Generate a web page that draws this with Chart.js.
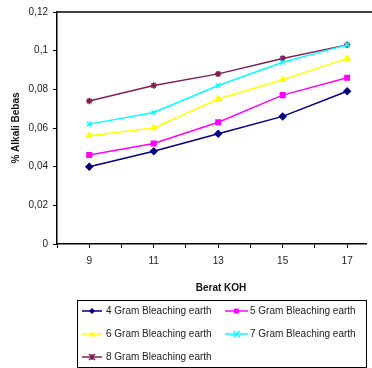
<!DOCTYPE html>
<html><head><meta charset="utf-8">
<script src="https://cdn.jsdelivr.net/npm/chart.js@4"></script>
<style>html,body{margin:0;padding:0;background:#fff}#wrap{width:372px;height:368px;position:relative}</style>
</head><body><div id="wrap"><canvas id="c" width="372" height="368"></canvas></div>
<script>
const categories = [9, 11, 13, 15, 17];
const seriesNames = ['4 Gram Bleaching earth', '5 Gram Bleaching earth', '6 Gram Bleaching earth', '7 Gram Bleaching earth', '8 Gram Bleaching earth'];
const gram4 = [0.040, 0.048, 0.057, 0.066, 0.079];
const gram5 = [0.046, 0.052, 0.063, 0.077, 0.086];
const gram6 = [0.056, 0.060, 0.075, 0.085, 0.096];
const gram7 = [0.062, 0.068, 0.082, 0.094, 0.103];
const gram8 = [0.074, 0.082, 0.088, 0.096, 0.103];
const yTickLabels = ['0', '0,02', '0,04', '0,06', '0,08', '0,1', '0,12'];
const xAxisTitle = 'Berat KOH';
const yAxisTitle = '% Alkali Bebas';

const FONT = "'Liberation Sans', Arial, sans-serif";
const colors = ['#000080', '#ff00ff', '#ffff00', '#00ffff', '#802050'];
const styles = ['rectRot', 'rect', 'triangle', 'crossRot', 'star'];
const allSeries = [gram4, gram5, gram6, gram7, gram8];

const datasets = allSeries.map((vals, i) => ({
  label: seriesNames[i],
  data: categories.map((c, j) => ({x: c, y: vals[j]})),
  borderColor: colors[i],
  backgroundColor: colors[i],
  borderWidth: 1.5,
  pointStyle: styles[i],
  pointRadius: 3.2,
  pointBorderWidth: 1.5,
  tension: 0
}));

function drawMarker(ctx, style, x, y, r, color) {
  ctx.save();
  ctx.fillStyle = color; ctx.strokeStyle = color; ctx.lineWidth = 1.5;
  ctx.beginPath();
  if (style === 'rectRot') {
    ctx.moveTo(x, y - r); ctx.lineTo(x + r, y); ctx.lineTo(x, y + r); ctx.lineTo(x - r, y); ctx.closePath(); ctx.fill();
  } else if (style === 'rect') {
    ctx.rect(x - r * 0.8, y - r * 0.8, r * 1.6, r * 1.6); ctx.fill();
  } else if (style === 'triangle') {
    ctx.moveTo(x, y - r); ctx.lineTo(x + r, y + r * 0.8); ctx.lineTo(x - r, y + r * 0.8); ctx.closePath(); ctx.fill();
  } else if (style === 'crossRot') {
    ctx.moveTo(x - r, y - r); ctx.lineTo(x + r, y + r); ctx.moveTo(x + r, y - r); ctx.lineTo(x - r, y + r); ctx.stroke();
  } else {
    ctx.moveTo(x - r, y - r); ctx.lineTo(x + r, y + r); ctx.moveTo(x + r, y - r); ctx.lineTo(x - r, y + r);
    ctx.moveTo(x, y - r); ctx.lineTo(x, y + r); ctx.stroke();
  }
  ctx.restore();
}

const decor = {
  id: 'decor',
  afterDraw(chart) {
    const ctx = chart.ctx, a = chart.chartArea;
    ctx.save();
    // top border
    ctx.strokeStyle = '#000'; ctx.lineWidth = 1.5;
    ctx.beginPath(); ctx.moveTo(a.left, a.top); ctx.lineTo(chart.width, a.top); ctx.stroke();
    // x title
    ctx.fillStyle = '#111'; ctx.font = 'bold 10px ' + FONT;
    ctx.textAlign = 'center'; ctx.textBaseline = 'middle';
    ctx.fillText(xAxisTitle, 221, 288);
    // legend box
    ctx.lineWidth = 1; ctx.strokeStyle = '#000';
    ctx.strokeRect(77.5, 300.5, 289, 67);
    ctx.beginPath(); ctx.rect(78, 301, 288, 66); ctx.clip();
    const rowsY = [311, 334, 357];
    chart.data.datasets.forEach((ds, i) => {
      const col = i % 2, row = Math.floor(i / 2);
      const x0 = col ? 225 : 82, x1 = col ? 248 : 102, tx = col ? 250 : 106;
      const y = rowsY[row];
      ctx.strokeStyle = ds.borderColor; ctx.lineWidth = 1.5;
      ctx.beginPath(); ctx.moveTo(x0, y); ctx.lineTo(x1, y); ctx.stroke();
      drawMarker(ctx, ds.pointStyle, (x0 + x1) / 2, y, 3, ds.borderColor);
      ctx.fillStyle = '#222'; ctx.font = '10px ' + FONT;
      ctx.textAlign = 'left'; ctx.textBaseline = 'middle';
      ctx.fillText(ds.label, tx, y);
    });
    ctx.restore();
  }
};

new Chart(document.getElementById('c'), {
  type: 'line',
  data: {datasets},
  plugins: [decor],
  options: {
    responsive: false,
    animation: false,
    layout: {padding: {top: 12, right: 0, bottom: 70, left: 0}},
    plugins: {legend: {display: false}, tooltip: {enabled: false}},
    scales: {
      x: {
        type: 'linear', min: 8, max: 17.6,
        ticks: {
          stepSize: 1, includeBounds: false, autoSkip: false, maxRotation: 0, padding: 7,
          color: '#222', font: {family: FONT, size: 10},
          callback: (v) => categories.includes(v) ? String(v) : ''
        },
        grid: {drawOnChartArea: false, drawTicks: true, tickLength: 4, color: '#000', lineWidth: 1},
        border: {display: true, color: '#000', width: 1.5},
        afterFit: (s) => { s.height = 54; }
      },
      y: {
        min: 0, max: 0.12,
        ticks: {
          stepSize: 0.02, padding: 5, color: '#222', font: {family: FONT, size: 10},
          callback: (v) => yTickLabels[Math.round(v / 0.02)]
        },
        grid: {drawOnChartArea: false, drawTicks: true, tickLength: 4, color: '#000', lineWidth: 1},
        border: {display: true, color: '#000', width: 1.5},
        title: {display: true, text: yAxisTitle, color: '#111', font: {family: FONT, size: 10, weight: 'bold'}, padding: {top: 10, bottom: 0}},
        afterFit: (s) => { s.width = 57; }
      }
    }
  }
});
</script></body></html>
